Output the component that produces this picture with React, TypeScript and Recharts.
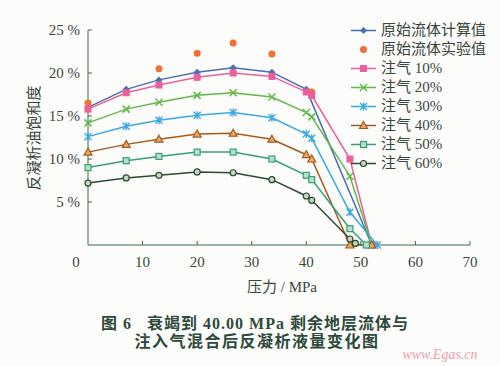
import React from 'react';
import { LineChart, Line, XAxis, YAxis } from 'recharts';

const pMain = [0, 7, 13, 20, 26.6, 33.7, 40, 41, 48];
const pCalc = [0, 7, 13, 20, 26.6, 33.7, 40, 52];
const calcVals = [16.0, 18.1, 19.2, 20.1, 20.6, 20.1, 18.1, 0];
const pExp = [0, 13, 20, 26.6, 33.7, 41];
const expVals = [16.5, 20.5, 22.3, 23.5, 22.2, 17.8];
const gas10 = [15.8, 17.7, 18.6, 19.5, 20.0, 19.6, 17.8, 17.4, 10.0, 0];
const gas20 = [14.2, 15.8, 16.6, 17.4, 17.7, 17.2, 15.4, 14.9, 8.0, 0];
const gas30 = [12.6, 13.8, 14.5, 15.1, 15.4, 14.8, 12.9, 12.4, 3.8, 0];
const gas40 = [10.8, 11.7, 12.3, 12.9, 13.0, 12.3, 10.5, 10.0, 0, 0];
const gas50 = [9.0, 9.8, 10.3, 10.8, 10.8, 10.0, 8.1, 7.6, 1.9, 0];
const gas60 = [7.2, 7.8, 8.1, 8.5, 8.4, 7.6, 5.7, 5.2, 0.7, 0.2];
const endP10 = 52, endP20 = 52, endP30 = 53, endP40 = 52, endP50 = 51, endP60 = 49;

const xTicks = [0, 10, 20, 30, 40, 50, 60, 70];
const yTicks = [0, 5, 10, 15, 20, 25];

const names = ['原始流体计算值', '原始流体实验值', '注气 10%', '注气 20%', '注气 30%', '注气 40%', '注气 50%', '注气 60%'];
const colors = ['#4a6db5', '#f07038', '#ea5f9c', '#62b848', '#3aa8e2', '#a55a1c', '#34a07a', '#2b4a30'];
const shapes = ['diamond', 'circle', 'square', 'cross', 'star', 'triangle', 'osquare', 'ocircle'];

const toData = (ps: number[], vs: number[]) => ps.map((p, i) => ({ p, v: vs[i] }));
const gasSeries = [
  { vals: gas10, end: endP10 },
  { vals: gas20, end: endP20 },
  { vals: gas30, end: endP30 },
  { vals: gas40, end: endP40 },
  { vals: gas50, end: endP50 },
  { vals: gas60, end: endP60 },
].map((s) => toData([...pMain, s.end], s.vals));

const serif = '"Liberation Serif", "DejaVu Serif", "Noto Sans CJK SC", serif';
const cjk = '"Liberation Serif", "Noto Sans CJK SC", serif';
const textColor = '#3a463c';
const axisColor = '#3d6a45';

function Marker({ shape, cx, cy, color }: { shape: string; cx: number; cy: number; color: string }) {
  if (cx == null || cy == null || isNaN(cx) || isNaN(cy)) return <g />;
  switch (shape) {
    case 'diamond':
      return <path d={`M${cx},${cy - 3.5}L${cx + 3.5},${cy}L${cx},${cy + 3.5}L${cx - 3.5},${cy}Z`} fill={color} />;
    case 'circle':
      return <circle cx={cx} cy={cy} r={3.5} fill={color} />;
    case 'square':
      return <rect x={cx - 3.5} y={cy - 3.5} width={7} height={7} fill={color} />;
    case 'cross':
      return (
        <path d={`M${cx - 3.5},${cy - 3.5}L${cx + 3.5},${cy + 3.5}M${cx - 3.5},${cy + 3.5}L${cx + 3.5},${cy - 3.5}`} stroke={color} strokeWidth={1.5} fill="none" />
      );
    case 'star':
      return (
        <path d={`M${cx - 3.5},${cy - 3.5}L${cx + 3.5},${cy + 3.5}M${cx - 3.5},${cy + 3.5}L${cx + 3.5},${cy - 3.5}M${cx},${cy - 4}L${cx},${cy + 4}`} stroke={color} strokeWidth={1.4} fill="none" />
      );
    case 'triangle':
      return <path d={`M${cx},${cy - 4}L${cx + 4},${cy + 3}L${cx - 4},${cy + 3}Z`} fill="#e8a868" stroke={color} strokeWidth={1.2} />;
    case 'osquare':
      return <rect x={cx - 3} y={cy - 3} width={6} height={6} fill="#b8e0c8" stroke={color} strokeWidth={1.2} />;
    case 'ocircle':
      return <circle cx={cx} cy={cy} r={3} fill="#c8d8c0" stroke={color} strokeWidth={1.2} />;
    default:
      return <g />;
  }
}

const makeDot = (i: number) => (props: any) => (
  <Marker key={`d${i}-${props.index}`} shape={shapes[i]} cx={props.cx} cy={props.cy} color={colors[i]} />
);

function XTick(props: any) {
  const { x, y, payload } = props;
  const v = payload.value;
  return (
    <g>
      {v !== 0 && <line x1={x} y1={y} x2={x} y2={y - 4} stroke={axisColor} strokeWidth={1} />}
      <text x={v === 0 ? x - 12 : x} y={y + 22} textAnchor="middle" fontFamily={serif} fontSize={15} fill={textColor}>
        {v}
      </text>
    </g>
  );
}

function YTick(props: any) {
  const { x, y, payload } = props;
  const v = payload.value;
  if (v === 0) return <g />;
  return (
    <g>
      <line x1={x} y1={y} x2={x + 4} y2={y} stroke={axisColor} strokeWidth={1} />
      <text x={x - 8} y={y + 5} textAnchor="end" fontFamily={serif} fontSize={15} fill={textColor}>
        {`${v} %`}
      </text>
    </g>
  );
}

function LegendBox() {
  return (
    <div style={{ position: 'absolute', left: 351, top: 21, fontFamily: cjk, fontSize: 15, color: textColor }}>
      {names.map((n, i) => (
        <div key={n} style={{ display: 'flex', alignItems: 'center', height: 19, whiteSpace: 'nowrap' }}>
          <svg width={30} height={19} style={{ flex: 'none' }}>
            {i !== 1 && <line x1={0} y1={9.5} x2={25} y2={9.5} stroke={colors[i]} strokeWidth={1.5} />}
            <Marker shape={shapes[i]} cx={12.5} cy={9.5} color={colors[i]} />
          </svg>
          <span style={{ lineHeight: '19px' }}>{n}</span>
        </div>
      ))}
    </div>
  );
}

export default function App() {
  return (
    <div style={{ position: 'absolute', left: 0, top: 0, width: 500, height: 366, background: '#fcfcfa' }}>
      <LineChart width={500} height={366} margin={{ top: 30, right: 30, bottom: 91, left: 28 }}>
        <XAxis
          type="number"
          dataKey="p"
          domain={[0, 70]}
          ticks={xTicks}
          tick={<XTick />}
          tickSize={0}
          tickMargin={0}
          height={30}
          stroke={axisColor}
          allowDuplicatedCategory={false}
        />
        <YAxis
          type="number"
          dataKey="v"
          domain={[0, 25]}
          ticks={yTicks}
          tick={<YTick />}
          tickSize={0}
          tickMargin={0}
          width={60}
          stroke={axisColor}
        />
        <Line data={toData(pCalc, calcVals)} dataKey="v" stroke={colors[0]} strokeWidth={1.5} dot={makeDot(0)} isAnimationActive={false} />
        <Line data={toData(pExp, expVals)} dataKey="v" stroke="none" strokeWidth={0} dot={makeDot(1)} isAnimationActive={false} />
        {gasSeries.map((d, k) => (
          <Line key={k} data={d} dataKey="v" stroke={colors[k + 2]} strokeWidth={1.5} dot={makeDot(k + 2)} isAnimationActive={false} />
        ))}
      </LineChart>
      <LegendBox />
      <div style={{ position: 'absolute', left: 32, top: 138, transform: 'translate(-50%,-50%) rotate(-90deg)', fontFamily: cjk, fontSize: 15, color: textColor, whiteSpace: 'nowrap' }}>
        反凝析油饱和度
      </div>
      <div style={{ position: 'absolute', left: 282, top: 285, transform: 'translate(-50%,-50%)', fontFamily: cjk, fontSize: 15, color: textColor, whiteSpace: 'nowrap' }}>
        压力 / MPa
      </div>
      <div style={{ position: 'absolute', left: 255, top: 322, transform: 'translate(-50%,-50%)', fontFamily: cjk, fontSize: 16, fontWeight: 'bold', color: '#2e4a3c', whiteSpace: 'nowrap', letterSpacing: 1 }}>
        图 6&nbsp;&nbsp;&nbsp;衰竭到 40.00 MPa 剩余地层流体与
      </div>
      <div style={{ position: 'absolute', left: 257, top: 340, transform: 'translate(-50%,-50%)', fontFamily: cjk, fontSize: 16, fontWeight: 'bold', color: '#2e4a3c', whiteSpace: 'nowrap', letterSpacing: 1.5 }}>
        注入气混合后反凝析液量变化图
      </div>
      <div style={{ position: 'absolute', left: 440, top: 355, transform: 'translate(-50%,-50%)', fontFamily: serif, fontSize: 14, fontStyle: 'italic', color: '#f0a0b0', whiteSpace: 'nowrap' }}>
        www.Egas.cn
      </div>
    </div>
  );
}
